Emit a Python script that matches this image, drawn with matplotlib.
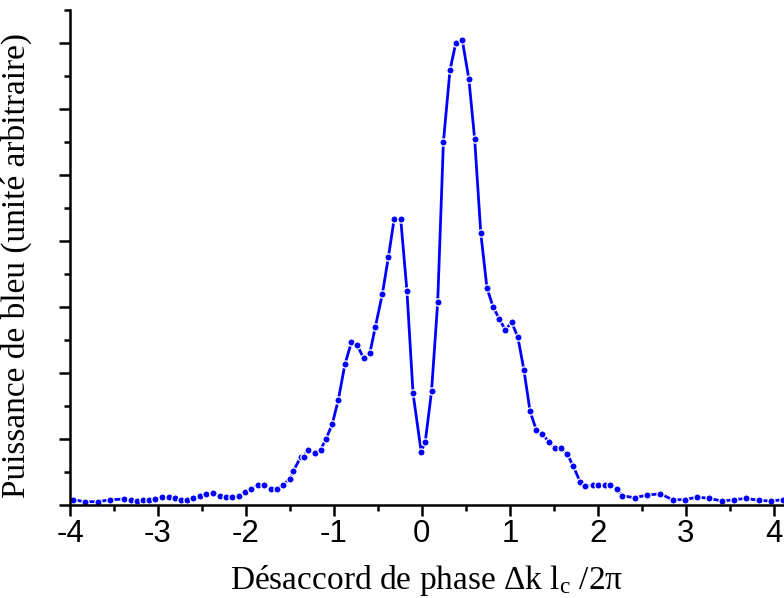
import matplotlib
matplotlib.use('Agg')
import matplotlib.pyplot as plt
from matplotlib.ticker import MultipleLocator, NullFormatter

# phase mismatch (Δk lc / 2π) and blue power (arbitrary units)
dk = [-3.97, -3.83, -3.68, -3.54, -3.39, -3.31, -3.24, -3.17, -3.10, -3.03,
      -2.95, -2.88, -2.81, -2.74, -2.67, -2.60, -2.52, -2.45, -2.38, -2.30,
      -2.23, -2.16, -2.08, -2.01, -1.94, -1.86, -1.79, -1.72, -1.65, -1.58,
      -1.50, -1.46, -1.375, -1.345, -1.30, -1.22, -1.15, -1.09, -1.02, -0.95,
      -0.875, -0.80, -0.735, -0.66, -0.59, -0.53, -0.45, -0.38, -0.315, -0.24,
      -0.17, -0.10, -0.008, 0.038, 0.11, 0.18, 0.245, 0.32, 0.386, 0.46,
      0.534, 0.60, 0.67, 0.74, 0.81, 0.88, 0.95, 1.02, 1.09, 1.16,
      1.23, 1.30, 1.37, 1.44, 1.51, 1.58, 1.65, 1.72, 1.80, 1.86,
      1.94, 2.0, 2.08, 2.14, 2.22, 2.28, 2.42, 2.56, 2.71, 2.85,
      2.99, 3.13, 3.27, 3.41, 3.55, 3.69, 3.83, 3.97, 4.10]
power = [0.08, 0.05, 0.05, 0.08, 0.09, 0.07, 0.06, 0.07, 0.08, 0.09,
         0.12, 0.12, 0.10, 0.07, 0.08, 0.10, 0.13, 0.16, 0.18, 0.14,
         0.12, 0.12, 0.14, 0.20, 0.25, 0.30, 0.30, 0.24, 0.25, 0.31,
         0.39, 0.52, 0.73, 0.73, 0.83, 0.79, 0.84, 1.0, 1.22, 1.59,
         2.13, 2.47, 2.42, 2.22, 2.31, 2.69, 3.19, 3.76, 4.33, 4.33,
         3.25, 1.69, 0.81, 0.95, 1.72, 3.07, 5.5, 6.59, 7.0, 7.04,
         6.46, 5.55, 4.12, 3.29, 3.0, 2.82, 2.65, 2.77, 2.55, 2.05,
         1.42, 1.14, 1.08, 0.96, 0.87, 0.86, 0.78, 0.59, 0.35, 0.29,
         0.30, 0.30, 0.30, 0.31, 0.24, 0.14, 0.11, 0.15, 0.17, 0.08,
         0.08, 0.12, 0.10, 0.06, 0.08, 0.10, 0.07, 0.06, 0.08]
xticks = [-4, -3, -2, -1, 0, 1, 2, 3, 4]

plt.rcParams['mathtext.fontset'] = 'custom'
plt.rcParams['mathtext.rm'] = 'Liberation Serif'
plt.rcParams['mathtext.it'] = 'Liberation Serif:italic'

fig = plt.figure(figsize=(7.84, 5.98), dpi=100)
ax = fig.add_axes([70/784, 93/598, 1 - 70/784, 495/598])

ax.plot(dk, power, color='#0000ff', lw=2.0, marker='o', ms=5.2,
        mec='white', mew=0.9, clip_on=False)

ax.set_xlim(-4, 4.117)
ax.set_ylim(0, 7.5)
ax.spines['top'].set_visible(False)
ax.spines['right'].set_visible(False)
for s in ['left', 'bottom']:
    ax.spines[s].set_linewidth(1.8)

ax.xaxis.set_minor_locator(MultipleLocator(0.5))
ax.yaxis.set_major_locator(MultipleLocator(1))
ax.yaxis.set_minor_locator(MultipleLocator(0.5))
ax.yaxis.set_major_formatter(NullFormatter())
ax.tick_params(which='major', direction='out', length=8, width=1.8)
ax.tick_params(which='minor', direction='out', length=4, width=1.8)
ax.tick_params(axis='x', pad=2)
ax.set_xticks(xticks)
ax.set_xticklabels([str(t) for t in xticks],
                   fontfamily='Liberation Sans', fontsize=22.5)

ax.set_xlabel(r'Désaccord de phase Δk l$_\mathrm{c}$ /2π',
              fontfamily='Liberation Serif', fontsize=24, labelpad=10)
ax.set_ylabel('Puissance de bleu (unité arbitraire)',
              fontfamily='Liberation Serif', fontsize=24, labelpad=10)
ax.yaxis.set_label_coords(-0.053, 0.483)

fig.savefig('out.png', dpi=100)
